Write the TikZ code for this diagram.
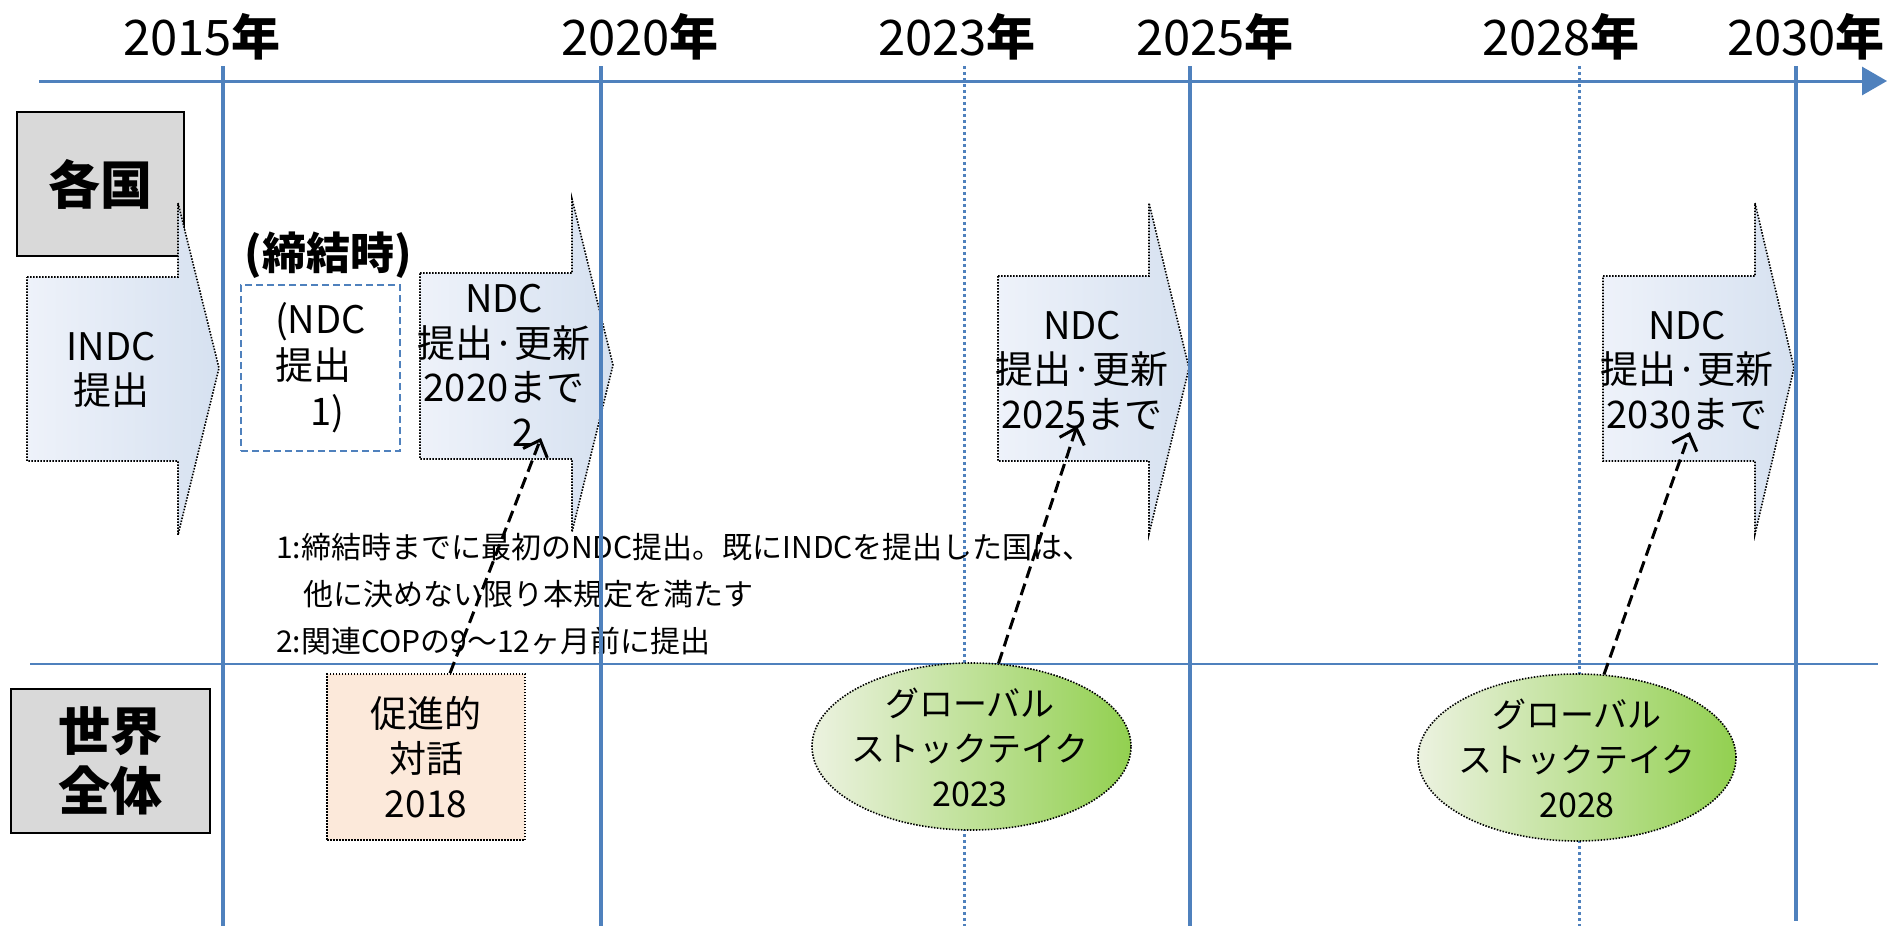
\documentclass[tikz,border=0pt]{standalone}
\usepackage{fontspec}
\setmainfont{Noto Sans CJK JP}
\usetikzlibrary{arrows.meta,shapes.geometric}
\definecolor{lineblue}{RGB}{79,129,189}
\definecolor{boxgray}{RGB}{217,217,217}
\definecolor{peach}{RGB}{252,233,218}
\definecolor{arrowL}{RGB}{238,242,250}
\definecolor{arrowR}{RGB}{214,225,240}
\definecolor{greenL}{RGB}{236,242,224}
\definecolor{greenR}{RGB}{146,208,80}
\begin{document}
\begin{tikzpicture}[x=1pt,y=-1pt,
  axisline/.style={draw=lineblue,line width=3pt},
  yearline/.style={draw=lineblue,line width=3.5pt},
  yeardot/.style={draw=lineblue,line width=3pt,dash pattern=on 3pt off 3pt},
  divider/.style={draw=lineblue,line width=2pt},
  yearlab/.style={anchor=base,inner sep=0pt,font=\fontsize{49}{58}\selectfont},
  graybox/.style={draw=black,line width=1.8pt,fill=boxgray,inner sep=0pt,align=center,font=\fontsize{52}{60}\selectfont\bfseries},
  ndcshape/.style={draw=black,line width=1.6pt,dash pattern=on 1.5pt off 1.5pt,left color=arrowL,right color=arrowR},
  ndctext/.style={inner sep=0pt,align=center,font=\fontsize{38}{44.5}\selectfont},
  dashbox/.style={draw=lineblue,line width=1.6pt,dash pattern=on 7pt off 4pt,fill=white,inner sep=0pt,align=left,font=\fontsize{38}{46}\selectfont},
  taiwabox/.style={draw=black,line width=1.6pt,dash pattern=on 1.5pt off 1.5pt,fill=peach,inner sep=0pt,align=center,font=\fontsize{37}{45}\selectfont},
  gst/.style={ellipse,draw=black,line width=1.6pt,dash pattern=on 1.5pt off 1.5pt,left color=greenL,right color=greenR,inner sep=0pt},
  gsttext/.style={inner sep=0pt,align=center,font=\fontsize{34}{45}\selectfont},
  note/.style={inner sep=0pt,align=left,anchor=west,font=\fontsize{30}{47}\selectfont},
  refarrow/.style={draw=black,line width=3pt,dash pattern=on 12pt off 6pt,-{Straight Barb[length=14pt,width=26pt,line width=3pt]}}
]
\useasboundingbox (0,0) rectangle (1899,926);
\fill[white] (0,0) rectangle (1899,926);

% year labels
\node[yearlab] (y2015) at (202,55) {2015\textbf{年}};
\node[yearlab] (y2020) at (640,55) {2020\textbf{年}};
\node[yearlab] (y2023) at (957,55) {2023\textbf{年}};
\node[yearlab] (y2025) at (1215,55) {2025\textbf{年}};
\node[yearlab] (y2028) at (1561,55) {2028\textbf{年}};
\node[yearlab] (y2030) at (1806,55) {2030\textbf{年}};

% footnotes
\node[note] (notes) at (276,594) {1:締結時までに最初のNDC提出。既にINDCを提出した国は、\\\hspace*{27pt}他に決めない限り本規定を満たす\\2:関連COPの9～12ヶ月前に提出};

% row headers
\node[graybox,minimum width=167pt,minimum height=144pt] (kakkoku) at (100.5,184) {各国};
\node[graybox,minimum width=199pt,minimum height=144pt] (sekai) at (110.5,761) {世界\\全体};

% INDC arrow
\path[ndcshape] (27,277) -- (178,277) -- (178,203) -- (219,368) -- (178,535) -- (178,461) -- (27,461) -- cycle;
\node[ndctext] (indc) at (111,370) {INDC\\提出};

% signing time
\node[inner sep=0pt,font=\fontsize{44}{50}\selectfont\bfseries] (teiketsu) at (328,255) {(締結時)};
\node[dashbox,minimum width=159pt,minimum height=166pt] (ndc0) at (320.5,368) {(NDC\\提出\\\hspace*{35pt}1)};

% NDC arrows
\path[ndcshape] (420,273) -- (572,273) -- (572,199) -- (613,365) -- (572,532) -- (572,459) -- (420,459) -- cycle;
\node[ndctext] (ndc1) at (504,365.5) {NDC\\提出·更新\\2020まで\\\hspace*{38pt}2};
\path[ndcshape] (998,276) -- (1149,276) -- (1149,203) -- (1189,368) -- (1149,534) -- (1149,461) -- (998,461) -- cycle;
\node[ndctext] (ndc2) at (1082,370.5) {NDC\\提出·更新\\2025まで};
\path[ndcshape] (1603,276) -- (1755,276) -- (1755,203) -- (1794,368) -- (1755,534) -- (1755,461) -- (1603,461) -- cycle;
\node[ndctext] (ndc3) at (1687,370.5) {NDC\\提出·更新\\2030まで};

% facilitative dialogue
\node[taiwabox,minimum width=198pt,minimum height=166pt] (taiwa) at (426,757) {促進的\\対話\\2018};

% time lines
\draw[yearline] (223,66) -- (223,926);
\draw[yearline] (601,66) -- (601,926);
\draw[yeardot] (964,66) -- (964,926);
\draw[yearline] (1190,66) -- (1190,926);
\draw[yeardot] (1579,66) -- (1579,926);
\draw[yearline] (1796,66) -- (1796,921);
\draw[axisline,-{Triangle[length=25pt,width=28pt]}] (39,81) -- (1887,81);
\draw[divider] (30,664) -- (1878,664);

% global stocktakes
\node[gst,minimum width=319pt,minimum height=167pt] (gst23) at (971.5,746.5) {};
\node[gsttext] (gst23t) at (970,747) {グローバル\\ストックテイク\\2023};
\node[gst,minimum width=318pt,minimum height=167pt] (gst28) at (1577,757.5) {};
\node[gsttext] (gst28t) at (1577,758) {グローバル\\ストックテイク\\2028};

% reference arrows
\coordinate (r1) at (541,438);
\coordinate (r2) at (1077,426);
\coordinate (r3) at (1690,432);
\draw[refarrow] ([xshift=24pt]taiwa.north) -- (r1);
\draw[refarrow] (gst23.72) -- (r2);
\draw[refarrow] (gst28.72) -- (r3);
\end{tikzpicture}
\end{document}
